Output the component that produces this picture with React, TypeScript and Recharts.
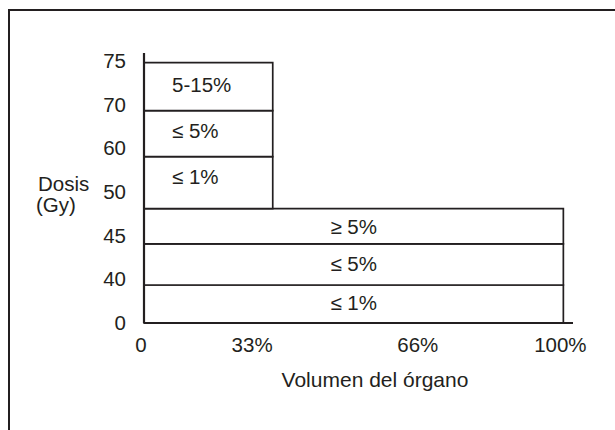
import { ComposedChart, XAxis, YAxis, ReferenceArea, Label } from 'recharts';

// x ticks (tick spot on the axis, printed label)
const xTickValues = [0, 26.5, 66, 100];
const xTickLabels = ['0', '33%', '66%', '100%'];

// dose ticks: the axis is drawn as evenly spaced levels
const doseTickValues = [0, 1, 2, 3, 4, 5, 6];
const doseLabels = ['0', '40', '45', '50', '60', '70', '75'];

// boxes, bottom to top (y in level units, x in % of organ volume)
const boxLabels = ['≤ 1%', '≤ 5%', '≥ 5%', '≤ 1%', '≤ 5%', '5-15%'];
const boxX2 = [100, 100, 100, 30.7, 30.7, 30.7];
const boxY1 = [0, 0.87, 1.81, 2.62, 3.81, 4.86];
const boxY2 = [0.87, 1.81, 2.62, 3.81, 4.86, 5.96];

const INK = '#231f20';
const FONT = '"Liberation Sans", Arial, sans-serif';
const FS = 20.5;

function XTick(props: any) {
    const { x, y, payload } = props;
    const i = xTickValues.indexOf(payload.value);
    return (
        <text x={x - 3} y={y + 27} textAnchor="middle" fontSize={FS} fill={INK} fontFamily={FONT}>
            {xTickLabels[i]}
        </text>
    );
}

function YTick(props: any) {
    const { y, payload } = props;
    const i = doseTickValues.indexOf(payload.value);
    return (
        <text x={126} y={y + 7} textAnchor="end" fontSize={FS} fill={INK} fontFamily={FONT}>
            {doseLabels[i]}
        </text>
    );
}

function boxLabel(text: string, upper: boolean, dy: number) {
    return (props: any) => {
        const { x, y, width, height } = props.viewBox;
        return (
            <text
                x={upper ? x + 28 : x + width / 2}
                y={y + height / 2 + 7 + dy}
                textAnchor={upper ? 'start' : 'middle'}
                fontSize={FS}
                fill={INK}
                fontFamily={FONT}
            >
                {text}
            </text>
        );
    };
}

const labelShift = [-1, 0, 1, -6, -3, -2];

export default function App() {
    return (
        <div style={{ position: 'absolute', left: 0, top: 0, width: 615, height: 430, background: '#fff', overflow: 'hidden' }}>
            {/* frame, only top and left edges show */}
            <div style={{
                position: 'absolute',
                left: 8,
                top: 9,
                width: 640,
                height: 460,
                borderTop: `2px solid ${INK}`,
                borderLeft: `2px solid ${INK}`,
            }} />
            <div style={{ position: 'absolute', left: 0, top: 0 }}>
                <ComposedChart width={615} height={430} data={[]} margin={{ top: 53, right: 42, left: 0, bottom: 0 }}>
                    <XAxis
                        type="number"
                        dataKey="x"
                        domain={[0, 102.3]}
                        ticks={xTickValues}
                        interval={0}
                        allowDataOverflow
                        height={107}
                        tickSize={0}
                        tickLine={false}
                        axisLine={{ stroke: INK, strokeWidth: 2.2 }}
                        tick={<XTick />}
                    >
                        <Label
                            content={() => (
                                <text x={375} y={387} textAnchor="middle" fontSize={21} fill={INK} fontFamily={FONT}>
                                    Volumen del órgano
                                </text>
                            )}
                        />
                    </XAxis>
                    <YAxis
                        type="number"
                        dataKey="y"
                        domain={[0, 6.18]}
                        ticks={doseTickValues}
                        interval={0}
                        allowDataOverflow
                        width={144}
                        tickSize={0}
                        tickLine={false}
                        axisLine={{ stroke: INK, strokeWidth: 2.2 }}
                        tick={<YTick />}
                    >
                        <Label
                            content={() => (
                                <text fontSize={FS} fill={INK} fontFamily={FONT}>
                                    <tspan x={38} y={191}>Dosis</tspan>
                                    <tspan x={36} y={212}>(Gy)</tspan>
                                </text>
                            )}
                        />
                    </YAxis>
                    {boxLabels.map((t, i) => (
                        <ReferenceArea
                            key={i}
                            x1={0}
                            x2={boxX2[i]}
                            y1={boxY1[i]}
                            y2={boxY2[i]}
                            fill="#fff"
                            fillOpacity={1}
                            stroke={INK}
                            strokeWidth={1.7}
                            ifOverflow="visible"
                        >
                            <Label content={boxLabel(t, i >= 3, labelShift[i])} />
                        </ReferenceArea>
                    ))}
                </ComposedChart>
            </div>
        </div>
    );
}
